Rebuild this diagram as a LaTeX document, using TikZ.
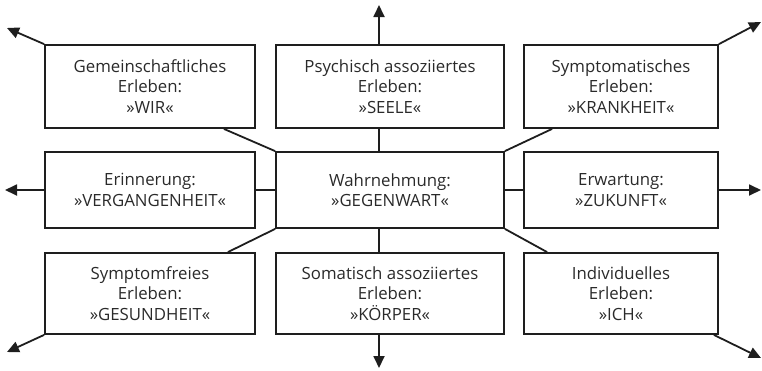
\documentclass[tikz,border=0pt]{standalone}
\usepackage{fontspec}
\setmainfont{Open Sans}
\usetikzlibrary{arrows.meta}
\definecolor{ink}{HTML}{1E1E1E}
\definecolor{txt}{HTML}{2A2A2A}
\tikzset{
  box/.style={draw=ink, line width=1.8pt, inner sep=0pt, align=center, text=txt,
    font=\fontsize{16.8}{20.5}\selectfont},
  link/.style={draw=ink, line width=1.8pt},
  outarrow/.style={draw=ink, line width=1.8pt, -{Triangle[length=12pt,width=11pt]}}
}
\begin{document}
\begin{tikzpicture}[x=1pt,y=-1pt]
\useasboundingbox (0,0) rectangle (762,370);
% boxes
\node[box, minimum width=210pt, minimum height=83pt] (gw) at (150,86.5) {Gemeinschaftliches\\Erleben:\\»WIR«};
\node[box, minimum width=228pt, minimum height=83pt] (ps) at (390,86.5) {Psychisch assoziiertes\\Erleben:\\»SEELE«};
\node[box, minimum width=194pt, minimum height=83pt] (sy) at (621,86.5) {Symptomatisches\\Erleben:\\»KRANKHEIT«};
\node[box, minimum width=210pt, minimum height=76pt] (er) at (150,190) {Erinnerung:\\»VERGANGENHEIT«};
\node[box, minimum width=228pt, minimum height=76pt] (wa) at (390,190) {Wahrnehmung:\\»GEGENWART«};
\node[box, minimum width=194pt, minimum height=76pt] (ew) at (621,190) {Erwartung:\\»ZUKUNFT«};
\node[box, minimum width=210pt, minimum height=81pt] (sf) at (150,293.5) {Symptomfreies\\Erleben:\\»GESUNDHEIT«};
\node[box, minimum width=228pt, minimum height=81pt] (so) at (390,293.5) {Somatisch assoziiertes\\Erleben:\\»KÖRPER«};
\node[box, minimum width=194pt, minimum height=81pt] (in) at (621,293.5) {Individuelles\\Erleben:\\»ICH«};
% free ends
\coordinate (aNW) at (7,28);
\coordinate (aN) at (379,5);
\coordinate (aNE) at (761,22);
\coordinate (aW) at (5,190);
\coordinate (aE) at (761,190);
\coordinate (aSW) at (7,352);
\coordinate (aS) at (379,368);
\coordinate (aSE) at (761,358);
% inner connectors
\draw[link] ([xshift=-11pt]ps.south) -- ([xshift=-11pt]wa.north);
\draw[link] ([xshift=-11pt]wa.south) -- ([xshift=-11pt]so.north);
\draw[link] (er.east) -- (wa.west);
\draw[link] (wa.east) -- (ew.west);
\draw[link] ([xshift=-32pt]gw.south east) -- (wa.north west);
\draw[link] ([xshift=29pt]sy.south west) -- (wa.north east);
\draw[link] ([xshift=-28pt]sf.north east) -- (wa.south west);
\draw[link] ([xshift=24pt]in.north west) -- (wa.south east);
% outer arrows
\draw[outarrow] (gw.north west) -- (aNW);
\draw[outarrow] ([xshift=-11pt]ps.north) -- (aN);
\draw[outarrow] (sy.north east) -- (aNE);
\draw[outarrow] (er.west) -- (aW);
\draw[outarrow] (ew.east) -- (aE);
\draw[outarrow] (sf.south west) -- (aSW);
\draw[outarrow] ([xshift=-11pt]so.south) -- (aS);
\draw[outarrow] ([xshift=-5pt]in.south east) -- (aSE);
\end{tikzpicture}
\end{document}
